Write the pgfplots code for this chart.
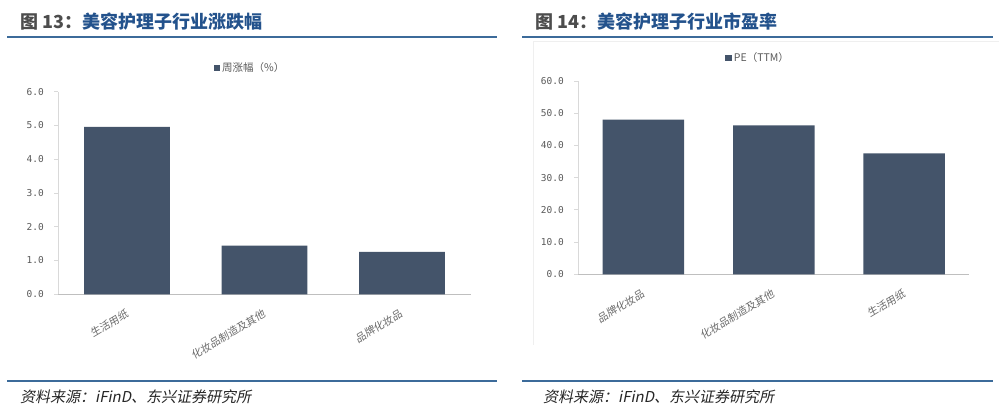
\documentclass[border=0pt]{standalone}
\usepackage{fontspec}
\usepackage{pgfplots}
\pgfplotsset{compat=1.18}

\newfontfamily\cjk{Noto Sans CJK SC}
\newfontfamily\cjkslant[FakeSlant=0.2]{Noto Sans CJK SC}
\newfontfamily\cjklab[FakeSlant=0.12]{Noto Sans CJK SC}
\newfontfamily\tickfont{DejaVu Sans Mono}

\definecolor{barcol}{HTML}{44546A}
\definecolor{titleblue}{HTML}{23528C}
\definecolor{titlegray}{HTML}{4D4D4D}
\definecolor{rulecol}{HTML}{3C6B9A}
\definecolor{labgray}{HTML}{595959}
\definecolor{xaxgray}{HTML}{BFBFBF}
\definecolor{yaxgray}{HTML}{D9D9D9}
\definecolor{framegray}{HTML}{EFEFEF}

\pgfplotsset{
  panel/.style={
    scale only axis,
    ybar,
    axis x line*=bottom,
    axis y line*=left,
    x axis line style={draw=xaxgray, line width=1.2pt},
    y axis line style={draw=yaxgray, line width=0.8pt},
    xmin=-0.5, xmax=2.5,
    xtick={0,1,2},
    xtick style={draw=none},
    ytick style={draw=yaxgray, line width=0.8pt},
    tick align=outside,
    major tick length=4pt,
    /pgf/number format/assume math mode=true,
    /pgf/number format/.cd, fixed, fixed zerofill, precision=1, /pgfplots/.cd,
    yticklabel style={font=\tickfont\fontsize{9.5}{11}\selectfont, text=labgray, xshift=-7pt},
    xticklabel style={font=\cjklab\fontsize{10.5}{12}\selectfont, text=labgray!90,
      rotate=31, anchor=north east, yshift=-4pt, xshift=-4pt},
    legend image code/.code={\fill[barcol] (0pt,-3pt) rectangle (6.5pt,3.5pt);},
    legend style={draw=none, fill=none, anchor=center,
      font=\cjk\fontsize{10.5}{12}\selectfont, text=labgray,
      /tikz/every even column/.append style={column sep=0pt}},
  },
}

\begin{document}
\begin{tikzpicture}
\path[use as bounding box] (0pt,0pt) rectangle (999pt,-410pt);

% headings
\node[anchor=west, inner sep=0pt] at (20pt,-22pt)
  {\cjk\bfseries\fontsize{18}{20}\selectfont\textcolor{titlegray}{图 13：}\textcolor{titleblue}{美容护理子行业涨跌幅}};
\node[anchor=west, inner sep=0pt] at (535pt,-22pt)
  {\cjk\bfseries\fontsize{18}{20}\selectfont\textcolor{titlegray}{图 14：}\textcolor{titleblue}{美容护理子行业市盈率}};

% rules
\draw[rulecol, line width=1.5pt] (7pt,-37pt) -- (497pt,-37pt);
\draw[rulecol, line width=1.5pt] (522pt,-37pt) -- (993pt,-37pt);
\draw[rulecol, line width=1.5pt] (7pt,-381pt) -- (497pt,-381pt);
\draw[rulecol, line width=1.5pt] (522pt,-381pt) -- (993pt,-381pt);

% faint chart-area frame of the right panel
\draw[framegray, line width=0.8pt] (533pt,-345pt) -- (533pt,-41pt) -- (999pt,-41pt);

% sources
\node[anchor=west, inner sep=0pt, text=black!85] at (20pt,-397pt)
  {\cjkslant\fontsize{15}{17}\selectfont 资料来源：iFinD、东兴证券研究所};
\node[anchor=west, inner sep=0pt, text=black!85] at (543pt,-397pt)
  {\cjkslant\fontsize{15}{17}\selectfont 资料来源：iFinD、东兴证券研究所};

% weekly change by sub-industry
\begin{axis}[panel,
  at={(58.3pt,-294.3pt)}, anchor=south west,
  width=412.4pt, height=202.6pt,
  ymin=0, ymax=6, ytick={0,1,2,3,4,5,6},
  bar width=85.7pt,
  xticklabels={生活用纸,化妆品制造及其他,品牌化妆品},
  legend style={at={(rel axis cs:0.465,1.117)}},
]
\addplot[fill=barcol, draw=none] coordinates {(0,4.96) (1,1.44) (2,1.26)};
\addlegendentry{周涨幅（\%）}
\end{axis}

% PE (TTM) by sub-industry
\begin{axis}[panel,
  at={(578.3pt,-274.3pt)}, anchor=south west,
  width=391pt, height=193.3pt,
  ymin=0, ymax=60, ytick={0,10,20,30,40,50,60},
  bar width=81.5pt,
  xticklabels={品牌化妆品,化妆品制造及其他,生活用纸},
  legend style={at={(rel axis cs:0.46,1.119)}},
]
\addplot[fill=barcol, draw=none] coordinates {(0,48.0) (1,46.2) (2,37.55)};
\addlegendentry{PE（TTM）}
\end{axis}
\end{tikzpicture}
\end{document}
